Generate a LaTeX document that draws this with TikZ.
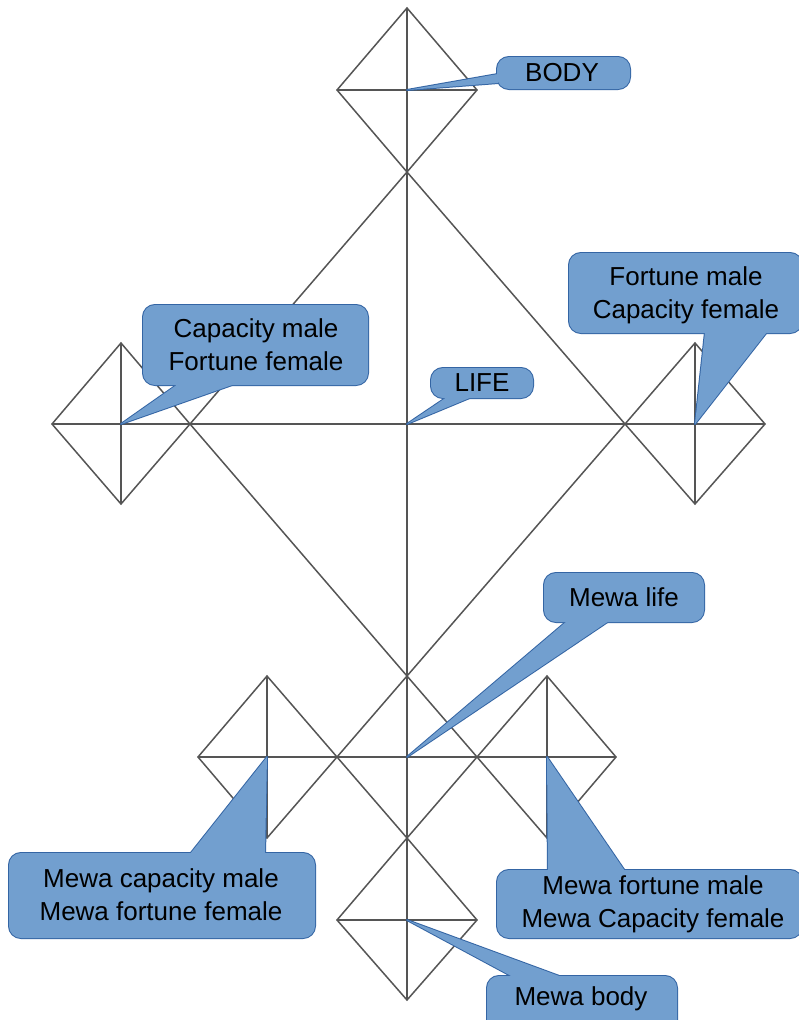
\documentclass[tikz,border=0pt]{standalone}
\usepackage{fontspec}
\setmainfont{Liberation Sans}
\definecolor{cfill}{HTML}{729FCF}
\definecolor{cedge}{HTML}{3465A4}
\definecolor{lgray}{HTML}{555555}
\begin{document}
\begin{tikzpicture}[x=1pt,y=-1pt,
  geo/.style={draw=lgray, line width=1.5pt, line join=miter},
  cout/.style={draw=cedge, line width=2pt, line join=round},
  cin/.style={fill=cfill},
  rbox/.style={rounded corners=12pt},
  lbl/.style={font=\fontsize{26}{33}\selectfont, align=center, text=black, inner sep=0pt}]
\useasboundingbox[fill=white] (0,0) rectangle (799,1020);

% ---- geometry coordinates ----
\coordinate (T0) at (407,8);
\coordinate (B0) at (407,1000);
\coordinate (HL) at (52,424);
\coordinate (HR) at (765,424);
% top kite
\coordinate (tk-n) at (407,8);  \coordinate (tk-e) at (477,90);
\coordinate (tk-s) at (407,172); \coordinate (tk-w) at (337,90);
\coordinate (tk-c) at (407,90);
% big kite
\coordinate (bk-n) at (407,172); \coordinate (bk-e) at (625,424);
\coordinate (bk-s) at (407,676); \coordinate (bk-w) at (190,424);
\coordinate (bk-c) at (407,424);
% left kite
\coordinate (lk-n) at (121,343); \coordinate (lk-e) at (190,424);
\coordinate (lk-s) at (121,504); \coordinate (lk-w) at (52,424);
\coordinate (lk-c) at (121,424);
% right kite
\coordinate (rk-n) at (695,343); \coordinate (rk-e) at (765,424);
\coordinate (rk-s) at (695,504); \coordinate (rk-w) at (625,424);
\coordinate (rk-c) at (695,424);
% bottom row
\coordinate (ak-n) at (267,676); \coordinate (ak-e) at (337,757);
\coordinate (ak-s) at (267,838); \coordinate (ak-w) at (198,757);
\coordinate (ak-c) at (267,757);
\coordinate (mk-n) at (407,676); \coordinate (mk-e) at (477,757);
\coordinate (mk-s) at (407,838); \coordinate (mk-w) at (337,757);
\coordinate (mk-c) at (407,757);
\coordinate (ck-n) at (547,676); \coordinate (ck-e) at (616,757);
\coordinate (ck-s) at (547,838); \coordinate (ck-w) at (477,757);
\coordinate (ck-c) at (547,757);
% bottom kite
\coordinate (dk-n) at (407,838); \coordinate (dk-e) at (477,920);
\coordinate (dk-s) at (407,1000); \coordinate (dk-w) at (337,920);
\coordinate (dk-c) at (407,920);

% ---- geometry ----
\draw[geo] (T0) -- (B0);
\draw[geo] (HL) -- (HR);
\foreach \k in {tk,bk,lk,rk,ak,mk,ck,dk}{
  \draw[geo] (\k-n) -- (\k-e) -- (\k-s) -- (\k-w) -- cycle;
}
\draw[geo] (tk-w) -- (tk-e);
\draw[geo] (lk-n) -- (lk-s);
\draw[geo] (rk-n) -- (rk-s);
\draw[geo] (ak-w) -- (ck-e);
\draw[geo] (ak-n) -- (ak-s);
\draw[geo] (ck-n) -- (ck-s);
\draw[geo] (dk-w) -- (dk-e);

% ---- callouts: outline pass ----
% BODY
\draw[cout] (498,74) -- (tk-c) -- (498,83);
\draw[cout,rbox] (497,57) rectangle (630,89);
% LIFE
\draw[cout] (447,397) -- (bk-c) -- (472,397);
\draw[cout,rbox] (431,368) rectangle (533,398);
% Capacity male
\draw[cout] (178,384) -- (lk-c) -- (235,384);
\draw[cout,rbox] (143,305) rectangle (368,385);
% Fortune male
\draw[cout] (705,332) -- (rk-c) -- (767,332);
\draw[cout,rbox] (569,253) rectangle (802,333);
% Mewa life
\draw[cout] (567,621) -- (mk-c) -- (609,621);
\draw[cout,rbox] (544,573) rectangle (704,622);
% Mewa capacity male
\draw[cout] (190,854) -- (ak-c) -- (265,854);
\draw[cout,rbox] (9,853) rectangle (315,938);
% Mewa fortune male
\draw[cout] (548,871) -- (ck-c) -- (625,871);
\draw[cout,rbox] (497,870) rectangle (802,938);
% Mewa body
\draw[cout] (513,977) -- (dk-c) -- (562,977);
\draw[cout,rbox] (487,976) rectangle (677,1032);

% ---- callouts: fill pass ----
\fill[cin] (498,74) -- (tk-c) -- (498,83) -- cycle;
\fill[cin,rbox] (497,57) rectangle (630,89);
\fill[cin] (447,397) -- (bk-c) -- (472,397) -- cycle;
\fill[cin,rbox] (431,368) rectangle (533,398);
\fill[cin] (178,384) -- (lk-c) -- (235,384) -- cycle;
\fill[cin,rbox] (143,305) rectangle (368,385);
\fill[cin] (705,332) -- (rk-c) -- (767,332) -- cycle;
\fill[cin,rbox] (569,253) rectangle (802,333);
\fill[cin] (567,621) -- (mk-c) -- (609,621) -- cycle;
\fill[cin,rbox] (544,573) rectangle (704,622);
\fill[cin] (190,854) -- (ak-c) -- (265,854) -- cycle;
\fill[cin,rbox] (9,853) rectangle (315,938);
\fill[cin] (548,871) -- (ck-c) -- (625,871) -- cycle;
\fill[cin,rbox] (497,870) rectangle (802,938);
\fill[cin] (513,977) -- (dk-c) -- (562,977) -- cycle;
\fill[cin,rbox] (487,976) rectangle (677,1032);

% ---- labels ----
\node[lbl] (body) at (562,73) {BODY};
\node[lbl] (life) at (482,383) {LIFE};
\node[lbl] (capm) at (256,345) {Capacity male\\Fortune female};
\node[lbl] (fortm) at (686,295) {Fortune male\\Capacity female};
\node[lbl] (mlife) at (624,597) {Mewa life};
\node[lbl] (mcapm) at (161,895) {Mewa capacity male\\Mewa fortune female};
\node[lbl] (mfortm) at (653,904) {Mewa fortune male\\Mewa Capacity female};
\node[lbl] (mbody) at (581,999) {Mewa body};
\end{tikzpicture}
\end{document}
